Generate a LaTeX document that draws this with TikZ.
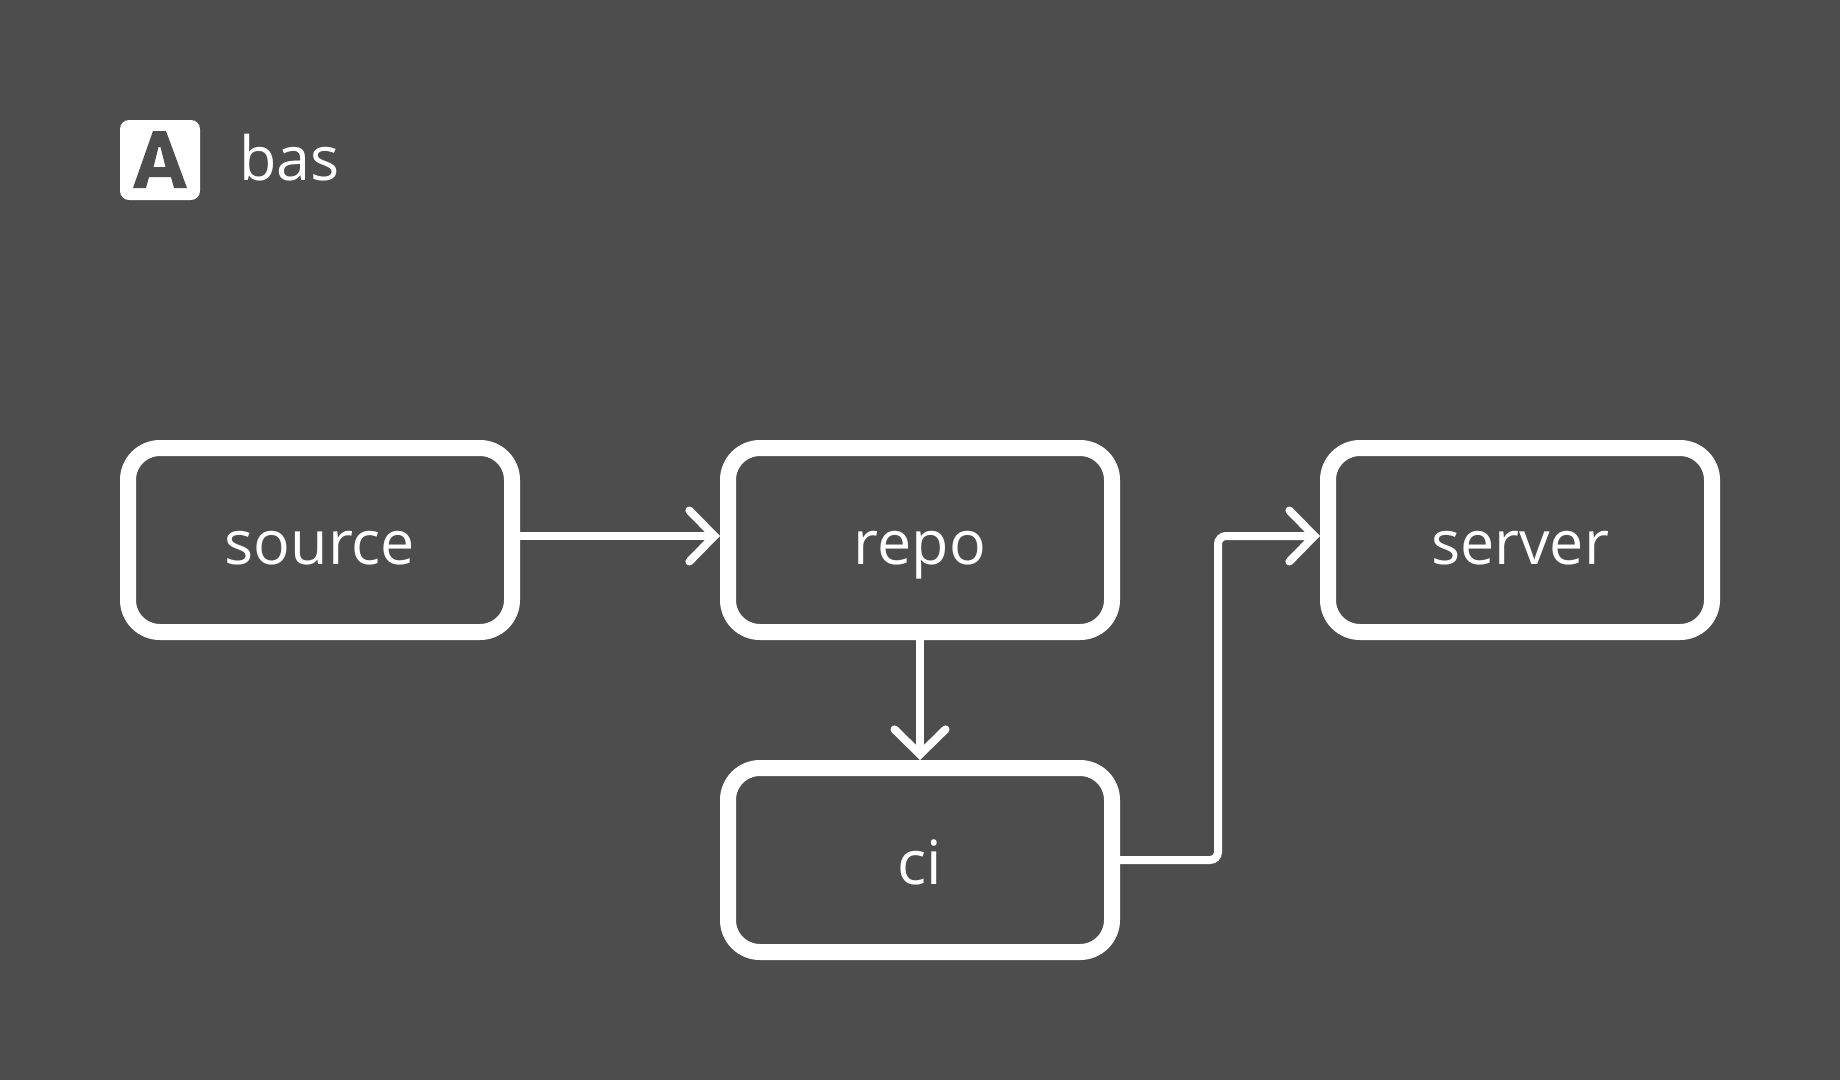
\documentclass[tikz,border=0pt]{standalone}
\usepackage{fontspec}
\setmainfont{Open Sans}
\usetikzlibrary{positioning,arrows.meta}
\definecolor{bgcol}{HTML}{4D4D4D}
\tikzset{
  block/.style={rectangle,draw=white,line width=16pt,rounded corners=32pt,
    minimum width=384pt,minimum height=184pt,text=white,font=\fontsize{61pt}{61pt}\selectfont,
    text height=48pt,text depth=0pt},
  link/.style={draw=white,line width=8pt,rounded corners=8pt,
    -{Straight Barb[length=25pt,width=51pt,line cap=round]}}
}

\begin{document}
\begin{tikzpicture}[x=1pt,y=-1pt,node distance=200pt and 200pt]
\fill[bgcol] (0,0) rectangle (1840,1080);
\useasboundingbox (0,0) rectangle (1840,1080);

% logo
\node [rectangle,fill=white,rounded corners=9pt,minimum size=80pt,inner sep=0pt] (logo) at (160,160) {};
\fill[bgcol,even odd rule] (153,131) -- (166,131) -- (187,188) -- (174,188) -- (171,177) -- (149,177) -- (146,188) -- (133,188) -- cycle
  (158.5,147) -- (160.5,147) -- (165.5,167) -- (153.5,167) -- cycle;
\node [text=white,font=\fontsize{61pt}{61pt}\selectfont,anchor=base west,inner sep=0pt] (title) at (239,180) {bas};

% boxes
\node [block] (source) at (320,540) {source};
\node [block,right=of source] (repo) {repo};
\node [block,right=of repo] (server) {server};
\node [block,below=120pt of repo] (ci) {ci};

% links
\draw [link] ([yshift=4pt]source.east) -- ([yshift=4pt]repo.west);
\draw [link] (repo.south) -- (ci.north);
\draw [link] (ci.east) -- ++(98,0) |- ([yshift=4pt]server.west);
\end{tikzpicture}
\end{document}
